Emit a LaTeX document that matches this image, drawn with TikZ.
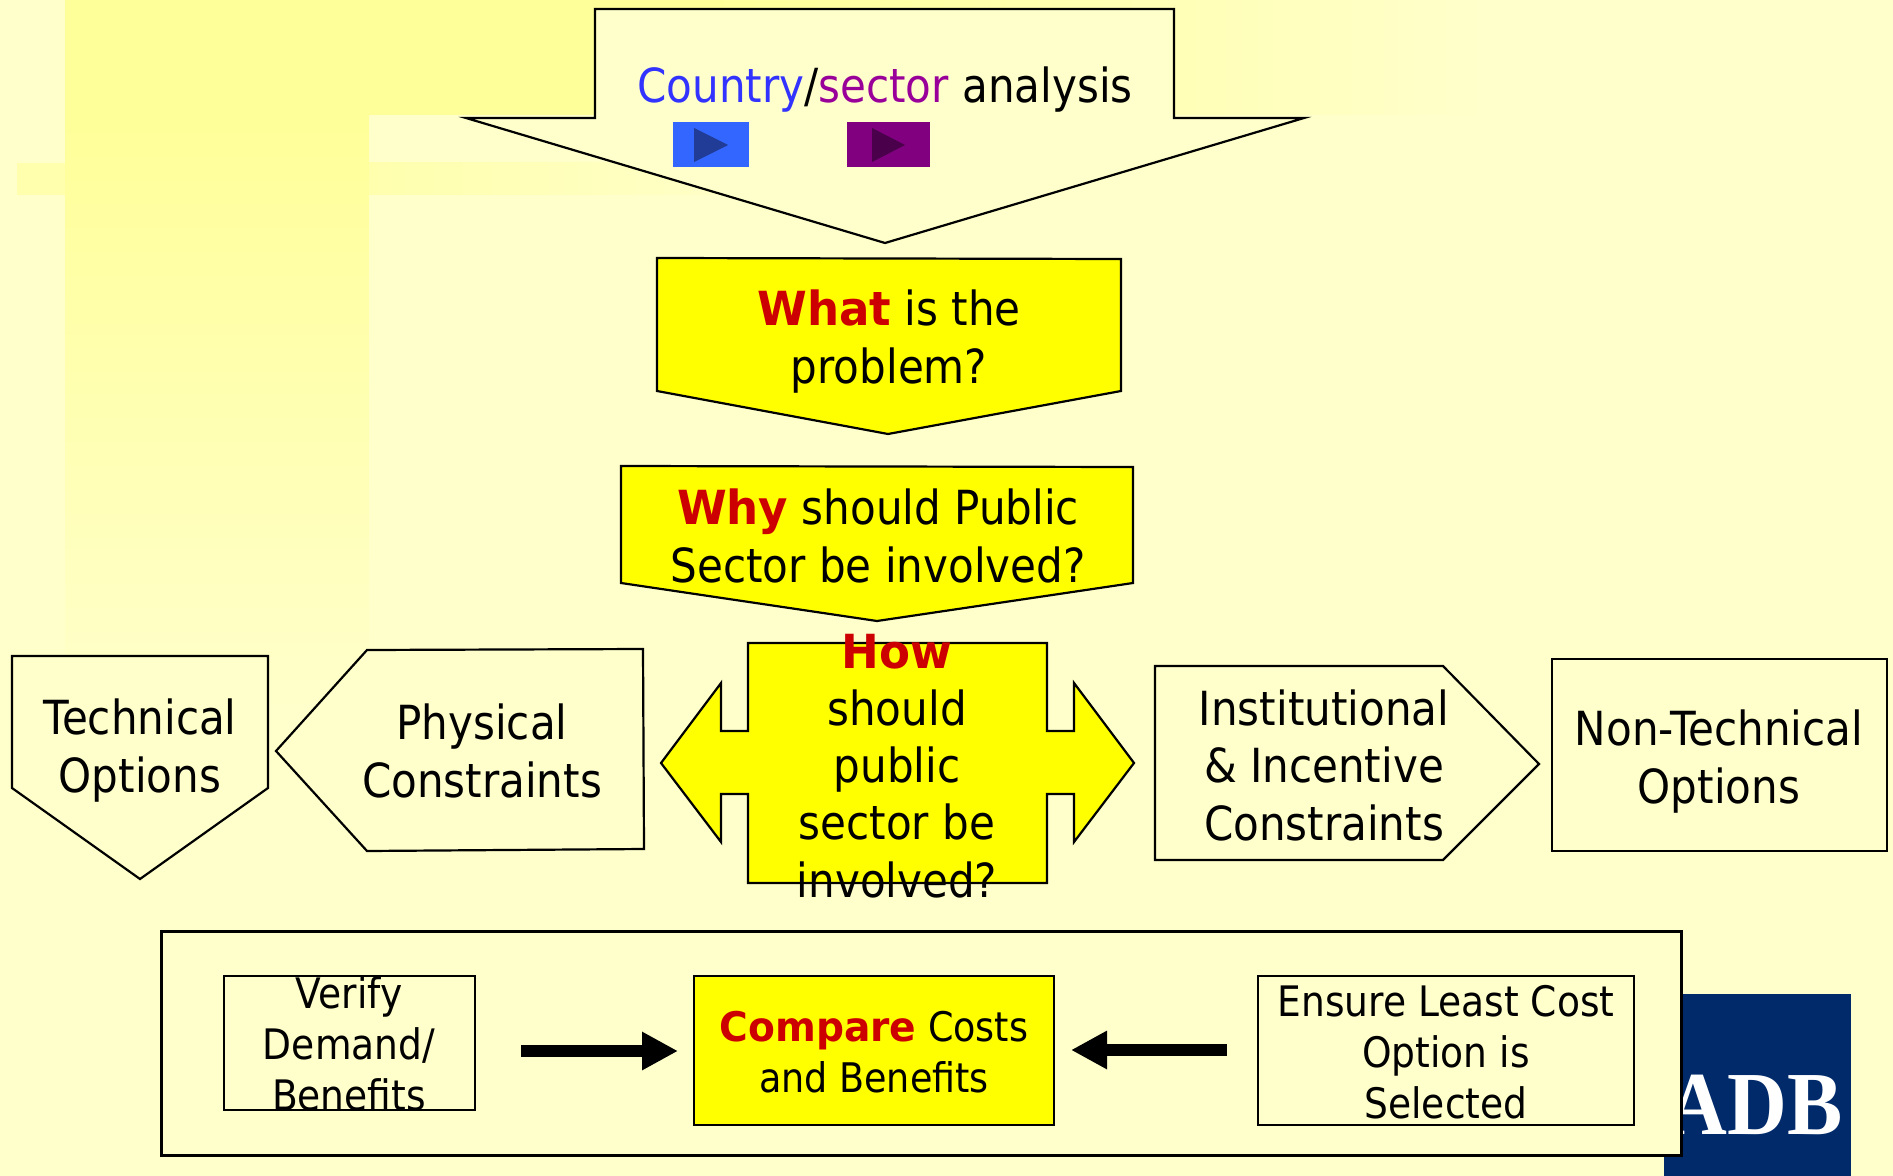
\documentclass[tikz,border=0pt]{standalone}
\usepackage{fontspec}
\setmainfont{DejaVu Sans}[FakeStretch=0.895]
\newfontfamily\hdfont{DejaVu Sans}[FakeStretch=0.96]
\newfontfamily\logofont{Liberation Serif}[FakeStretch=0.92]
\usetikzlibrary{arrows.meta}
\definecolor{bgc}{HTML}{FFFFCC}
\definecolor{deco}{HTML}{FFFF99}
\definecolor{decob}{HTML}{FFFFAE}
\definecolor{hl}{HTML}{FFFF00}
\definecolor{redw}{HTML}{CC0000}
\definecolor{bluew}{HTML}{3333FF}
\definecolor{purw}{HTML}{990099}
\definecolor{btnb}{HTML}{3366FF}
\definecolor{btnbd}{HTML}{203C96}
\definecolor{btnp}{HTML}{800080}
\definecolor{btnpd}{HTML}{4B004B}
\definecolor{navy}{HTML}{012A6B}
\newcommand{\hw}[1]{{\hdfont\bfseries\color{redw}#1}}
\tikzset{
  plainshape/.style={draw=black,line width=1.1pt,fill=bgc,line join=miter},
  yellowshape/.style={draw=black,line width=1.1pt,fill=hl,line join=miter},
  txt/.style={inner sep=0pt,outer sep=0pt,align=center,anchor=base,font=\fontsize{23.5}{28.6}\selectfont},
  txts/.style={inner sep=0pt,outer sep=0pt,align=center,anchor=base,font=\fontsize{21}{25.5}\selectfont},
  blockarrow/.style={line width=6pt,-{Triangle[length=18pt,width=18pt]},black}
}
\begin{document}
\begin{tikzpicture}[x=0.5pt,y=-0.5pt]
\useasboundingbox (0,0) rectangle (1893,1176);
\fill[bgc] (0,0) rectangle (1893,1176);
% decoration
\fill[decob] (17,163) rectangle (369,195);
\shade[left color=decob,right color=bgc] (369,163) rectangle (800,195);
\fill[deco] (65,0) rectangle (700,115);
\shade[left color=deco,right color=bgc] (700,0) rectangle (1500,115);
\shade[top color=deco,bottom color=bgc] (65,115) rectangle (369,720);
% logo
\fill[navy] (1664,994) rectangle (1851,1176);
\node (adb) [inner sep=0pt,anchor=base east,text=white,font=\logofont\bfseries\fontsize{45}{45}\selectfont] at (1843,1134) {ADB};
% top arrow
\draw[plainshape] (595,9) -- (1174,9) -- (1174,118) -- (1304,118) -- (885,243) -- (466,118) -- (595,118) -- cycle;
\node (country) [txt] at (885,103) {{\color{bluew}Country}/{\color{purw}sector} analysis};
\fill[btnb] (673,122) rectangle (749,167);
\fill[btnbd] (694,128) -- (728,145) -- (694,162) -- cycle;
\fill[btnp] (847,122) rectangle (930,167);
\fill[btnpd] (872,128) -- (905,145) -- (872,162) -- cycle;
% what
\draw[yellowshape] (657,258) -- (1121,259) -- (1121,391) -- (888,434) -- (657,391) -- cycle;
\node (what) [txt] at (889,383) {\hw{What} is the\\problem?};
% why
\draw[yellowshape] (621,466) -- (1133,467) -- (1133,583) -- (877,621) -- (621,583) -- cycle;
\node (why) [txt] at (878,582) {\hw{Why} should Public\\Sector be involved?};
% technical
\draw[plainshape] (12,656) -- (268,656) -- (268,788) -- (140,879) -- (12,788) -- cycle;
\node (tech) [txt] at (140,792) {Technical\\Options};
% physical
\draw[plainshape] (276,751) -- (367,650) -- (643,649) -- (644,849) -- (367,851) -- cycle;
\node (phys) [txt] at (482,797) {Physical\\Constraints};
% how
\draw[yellowshape] (661,763) -- (721,683) -- (721,731) -- (748,731) -- (748,643) -- (1047,643) -- (1047,731) -- (1074,731) -- (1074,683) -- (1134,763) -- (1074,842) -- (1074,794) -- (1047,794) -- (1047,883) -- (748,883) -- (748,794) -- (721,794) -- (721,842) -- cycle;
\node (how) [txt] at (897,897) {\hw{How}\\should\\public\\sector be\\involved?};
% institutional
\draw[plainshape] (1155,666) -- (1443,666) -- (1539,764) -- (1443,860) -- (1155,860) -- cycle;
\node (inst) [txt] at (1324,840) {Institutional\\\& Incentive\\Constraints};
% non-technical
\draw[plainshape] (1552,659) rectangle (1887,851);
\node (nontech) [txt] at (1719,803) {Non-Technical\\Options};
% bottom frame
\draw[draw=black,line width=1.5pt,fill=bgc] (161,931) rectangle (1681,1155);
\draw[draw=black,line width=1.1pt] (224,976) rectangle (475,1110);
\node (verify) [txts] at (349,1110) {Verify\\Demand/\\Benefits};
\draw[yellowshape] (694,976) rectangle (1054,1125);
\node (compare) [txts,font=\fontsize{20.4}{25.5}\selectfont] at (874,1092) {\hw{Compare} Costs\\and Benefits};
\draw[draw=black,line width=1.1pt] (1258,976) rectangle (1634,1125);
\node (ensure) [txts] at (1446,1118) {Ensure Least Cost\\Option is\\Selected};
\coordinate (a1s) at (521,1051);
\coordinate (a1e) at (678,1051);
\coordinate (a2s) at (1227,1050);
\coordinate (a2e) at (1071,1050);
\draw[blockarrow] (a1s) -- (a1e);
\draw[blockarrow] (a2s) -- (a2e);
\end{tikzpicture}
\end{document}
